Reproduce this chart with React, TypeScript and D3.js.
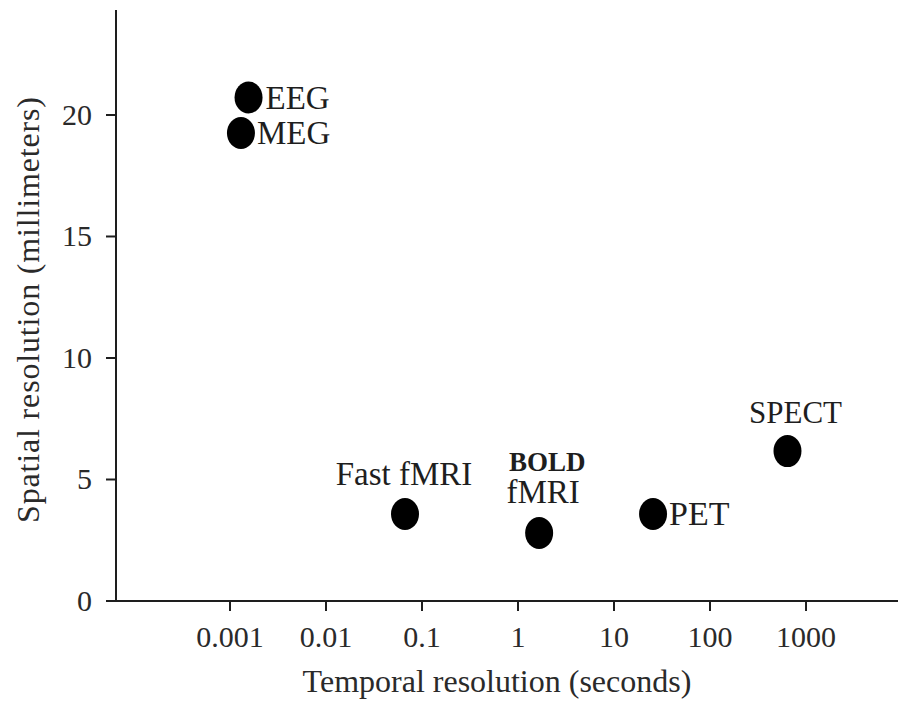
import React from "react";
import * as d3 from "d3";

const techniques = ["EEG", "MEG", "Fast fMRI", "BOLD fMRI", "PET", "SPECT"];
const temporalSeconds = [0.00156, 0.0013, 0.0665, 1.66, 25.5, 641];
const spatialMm = [20.72, 19.26, 3.58, 2.8, 3.58, 6.17];
const xTickValues = [0.001, 0.01, 0.1, 1, 10, 100, 1000];
const xTickLabels = ["0.001", "0.01", "0.1", "1", "10", "100", "1000"];
const yTickValues = [0, 5, 10, 15, 20];

const W = 898;
const H = 704;
const serif = "'Liberation Serif', 'Times New Roman', serif";
const ink = "#1e1e1e";

// label placement relative to point (dx, dy, anchor, size)
const labelPos: Record<string, { dx: number; dy: number; anchor: string; size: number }> = {
  EEG: { dx: 17, dy: 12, anchor: "start", size: 33 },
  MEG: { dx: 16, dy: 11, anchor: "start", size: 33 },
  "Fast fMRI": { dx: -1, dy: -29, anchor: "middle", size: 33 },
  PET: { dx: 16, dy: 11, anchor: "start", size: 34 },
  SPECT: { dx: 8, dy: -28, anchor: "middle", size: 31 },
};

export default function App() {
  const x = d3
    .scaleLog()
    .domain([Math.pow(10, -4.1875), Math.pow(10, 3.958)])
    .range([116, 898]);
  const y = d3.scaleLinear().domain([0, 24.32]).range([601, 10]);

  return (
    <svg
      width={W}
      height={H}
      style={{ position: "absolute", left: 0, top: 0, background: "#fff" }}
    >
      {/* axes */}
      <line x1={116} x2={116} y1={y(24.32)} y2={y(0)} stroke={ink} strokeWidth={2} />
      <line x1={106} x2={898} y1={y(0)} y2={y(0)} stroke={ink} strokeWidth={2} />
      {yTickValues.map((v) => (
        <g key={"y" + v}>
          <line x1={106} x2={116} y1={y(v)} y2={y(v)} stroke={ink} strokeWidth={2} />
          <text
            x={92}
            y={y(v) + 10}
            textAnchor="end"
            fontFamily={serif}
            fontSize={30}
            fill="#2a2a2a"
          >
            {v}
          </text>
        </g>
      ))}
      {xTickValues.map((v, i) => (
        <g key={"x" + v}>
          <line x1={x(v)} x2={x(v)} y1={y(0)} y2={y(0) + 10} stroke={ink} strokeWidth={2} />
          <text
            x={x(v)}
            y={647}
            textAnchor="middle"
            fontFamily={serif}
            fontSize={30}
            fill="#2a2a2a"
          >
            {xTickLabels[i]}
          </text>
        </g>
      ))}
      <text
        x={497}
        y={692}
        textAnchor="middle"
        fontFamily={serif}
        fontSize={32}
        fill="#2a2a2a"
      >
        Temporal resolution (seconds)
      </text>
      <text
        transform={`translate(39, 310) rotate(-90)`}
        textAnchor="middle"
        fontFamily={serif}
        fontSize={32}
        textLength={426}
        lengthAdjust="spacing"
        fill="#2a2a2a"
      >
        Spatial resolution (millimeters)
      </text>

      {/* points */}
      {techniques.map((t, i) => (
        <ellipse
          key={t}
          cx={x(temporalSeconds[i])}
          cy={y(spatialMm[i])}
          rx={14}
          ry={16}
          fill="#000"
        />
      ))}

      {/* labels */}
      {techniques.map((t, i) => {
        const px = x(temporalSeconds[i]);
        const py = y(spatialMm[i]);
        if (t === "BOLD fMRI") {
          return (
            <g key={"l" + t}>
              <text
                x={px + 8}
                y={py - 62}
                textAnchor="middle"
                fontFamily={serif}
                fontWeight="bold"
                fontSize={27}
                fill={ink}
              >
                BOLD
              </text>
              <text
                x={px + 4}
                y={py - 30}
                textAnchor="middle"
                fontFamily={serif}
                fontSize={33}
                fill={ink}
              >
                fMRI
              </text>
            </g>
          );
        }
        const p = labelPos[t];
        return (
          <text
            key={"l" + t}
            x={px + p.dx}
            y={py + p.dy}
            textAnchor={p.anchor as any}
            fontFamily={serif}
            fontSize={p.size}
            fill={ink}
          >
            {t}
          </text>
        );
      })}
    </svg>
  );
}
